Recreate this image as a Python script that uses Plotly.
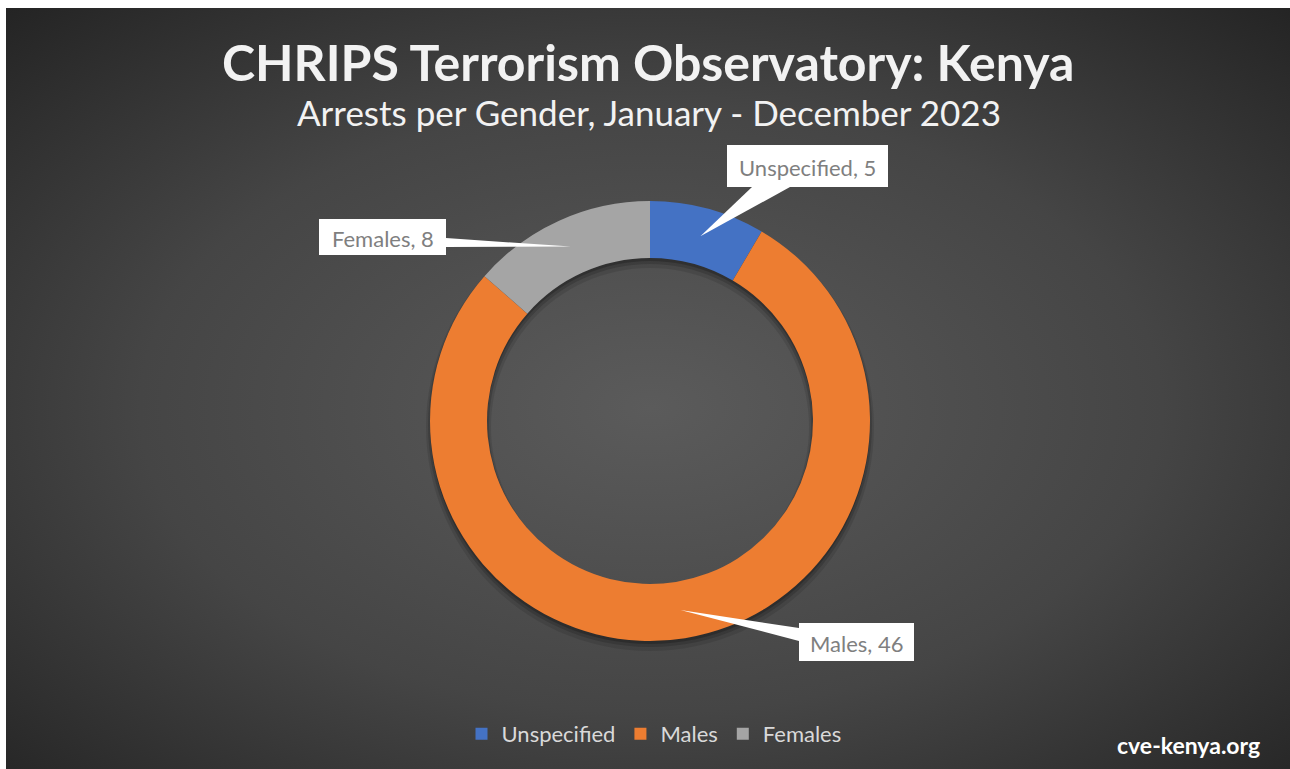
import base64, math
import plotly.graph_objects as go

# ---- data ----
labels = ["Unspecified", "Males", "Females"]
values = [5, 46, 8]
colors = ["#4472C4", "#ED7D31", "#A5A5A5"]
title_text = "CHRIPS Terrorism Observatory: Kenya"
subtitle_text = "Arrests per Gender, January - December 2023"
source_text = "cve-kenya.org"

W, H = 1290, 769
OFFX, OFFY = 6, 8          # page offset of the chart in the screenshot
CX, CY = 650, 421          # donut centre (screen pixels)
R_OUT, R_IN = 220, 163     # radii (pixels)

def px(x):
    return (x - OFFX) / W

def py(y):
    return 1 - (y - OFFY) / H

# background: radial gradient via inline SVG
svg = (
    '<svg xmlns="http://www.w3.org/2000/svg" width="1290" height="769" '
    'viewBox="0 0 1290 769" preserveAspectRatio="none">'
    '<defs><radialGradient id="g" cx="50%" cy="52%" r="72%">'
    '<stop offset="0" stop-color="#5b5b5b"/>'
    '<stop offset="0.55" stop-color="#454545"/>'
    '<stop offset="1" stop-color="#242424"/>'
    '</radialGradient></defs>'
    '<rect width="1290" height="769" fill="url(#g)"/></svg>'
)
bg_src = "data:image/svg+xml;base64," + base64.b64encode(svg.encode()).decode()

fig = go.Figure()
fig.add_trace(go.Pie(
    labels=labels, values=values, sort=False, direction="clockwise", rotation=0,
    hole=R_IN / R_OUT,
    marker=dict(colors=colors, line=dict(width=0)),
    textinfo="none", hoverinfo="label+value",
    domain=dict(x=[px(CX - R_OUT), px(CX + R_OUT)], y=[py(CY + R_OUT), py(CY - R_OUT)]),
))

shapes = []

# soft shadow ring below donut
def ring_path(cx, cy, ro, ri, n=120):
    pts_o = [(cx + ro * math.sin(2 * math.pi * k / n), cy - ro * math.cos(2 * math.pi * k / n)) for k in range(n)]
    pts_i = [(cx + ri * math.sin(-2 * math.pi * k / n), cy - ri * math.cos(-2 * math.pi * k / n)) for k in range(n)]
    p = "M " + " L ".join(f"{px(x):.5f},{py(y):.5f}" for x, y in pts_o) + " Z "
    p += "M " + " L ".join(f"{px(x):.5f},{py(y):.5f}" for x, y in pts_i) + " Z"
    return p

for off, grow, a in [(6, 4, 0.10), (4, 2, 0.15), (3, 0, 0.2)]:
    shapes.append(dict(type="path", xref="paper", yref="paper", layer="below",
                       path=ring_path(CX, CY + off, R_OUT + grow, R_IN - grow),
                       fillcolor=f"rgba(0,0,0,{a})", line=dict(width=0)))

# callout boxes and pointers; pointer tips at slice mid-angles
total = sum(values)
boxes = {
    "Unspecified": dict(x0=727, x1=888, y0=145, y1=187, base=[(752, 187), (790, 187)]),
    "Males": dict(x0=799, x1=914, y0=623, y1=661, base=[(799, 628), (799, 641)]),
    "Females": dict(x0=319, x1=446, y0=219, y1=255, base=[(446, 238), (446, 247)]),
}
annotations = []
cum = 0
r_mid = (R_OUT + R_IN) / 2
for lab, val in zip(labels, values):
    mid = (cum + val / 2) / total * 2 * math.pi
    cum += val
    tx = CX + r_mid * math.sin(mid)
    ty = CY - r_mid * math.cos(mid)
    b = boxes[lab]
    (bx0, by0), (bx1, by1) = b["base"]
    shapes.append(dict(type="path", xref="paper", yref="paper", layer="above",
                       path=f"M {px(bx0)},{py(by0)} L {px(tx)},{py(ty)} L {px(bx1)},{py(by1)} Z",
                       fillcolor="white", line=dict(width=0)))
    shapes.append(dict(type="rect", xref="paper", yref="paper", layer="above",
                       x0=px(b["x0"]), x1=px(b["x1"]), y0=py(b["y1"]), y1=py(b["y0"]),
                       fillcolor="white", line=dict(width=0)))
    annotations.append(dict(x=px((b["x0"] + b["x1"]) / 2), y=py((b["y0"] + b["y1"]) / 2 + 1),
                            xref="paper", yref="paper", showarrow=False,
                            text=f"{lab}, {val}", xanchor="center", yanchor="middle",
                            font=dict(family="Lato", size=22, color="#7F7F7F")))

annotations += [
    dict(x=px(648), y=py(62), xref="paper", yref="paper", showarrow=False,
         text=title_text, xanchor="center", yanchor="middle",
         font=dict(family="Lato", size=50, color="#F2F2F2", weight="bold")),
    dict(x=px(649), y=py(112), xref="paper", yref="paper", showarrow=False,
         text=subtitle_text, xanchor="center", yanchor="middle",
         font=dict(family="Lato", size=35, color="#F2F2F2")),
    dict(x=px(1262), y=py(745), xref="paper", yref="paper", showarrow=False,
         text=source_text, xanchor="right", yanchor="middle",
         font=dict(family="Lato", size=23, color="#FFFFFF", weight="bold")),
]

fig.update_layout(
    width=W, height=H,
    margin=dict(l=0, r=0, t=0, b=0),
    paper_bgcolor="#2a2a2a", plot_bgcolor="rgba(0,0,0,0)",
    images=[dict(source=bg_src, xref="paper", yref="paper", x=0, y=1,
                 sizex=1, sizey=1, sizing="stretch",
                 xanchor="left", yanchor="top", layer="below")],
    shapes=shapes,
    annotations=annotations,
    showlegend=True,
    legend=dict(orientation="h", x=px(654), xanchor="center", y=py(734), yanchor="middle",
                font=dict(family="Lato", size=22, color="#D9D9D9"),
                bgcolor="rgba(0,0,0,0)", traceorder="normal"),
)

fig.write_html(
    "out.html",
    post_script="document.body.style.margin='8px 0 0 6px';"
                "document.body.style.overflow='hidden';",
)
